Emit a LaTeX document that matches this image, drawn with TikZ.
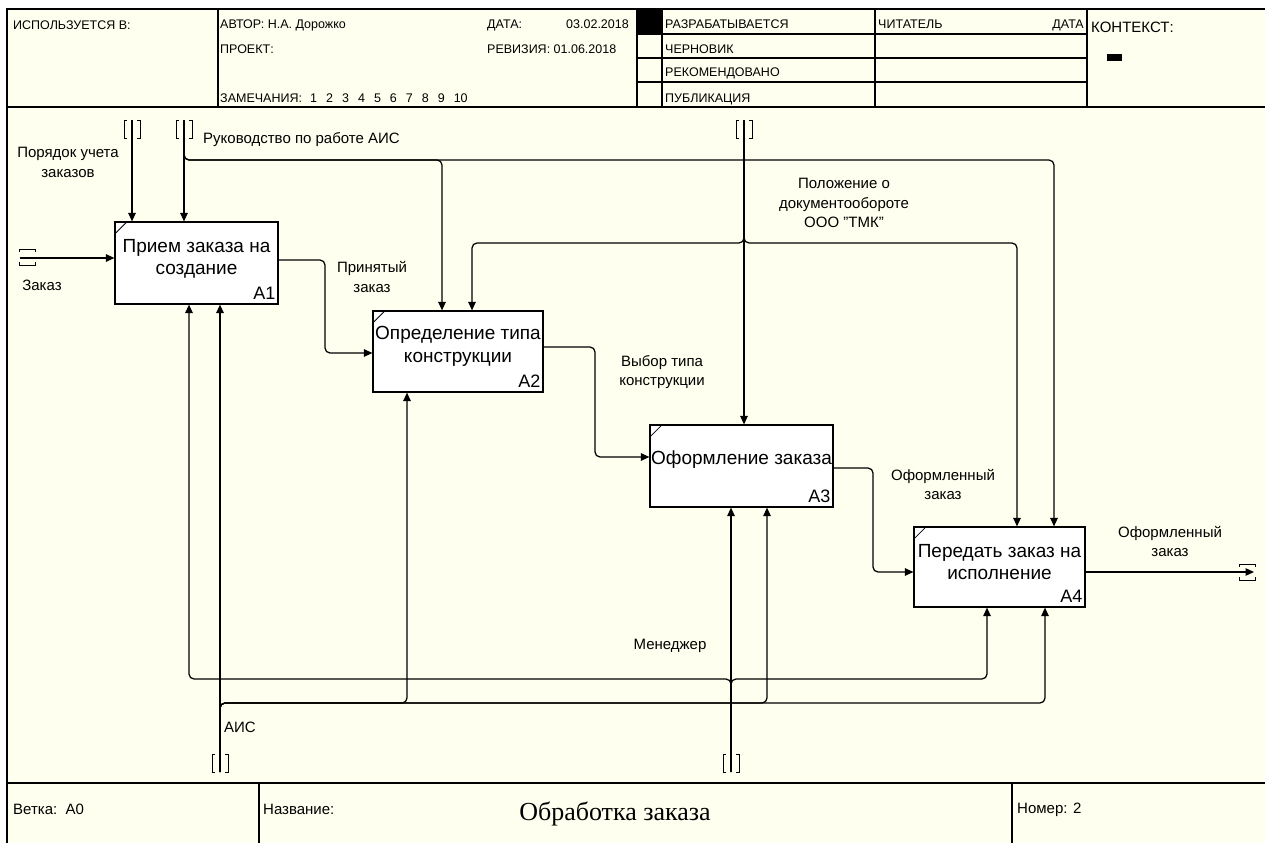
\documentclass[tikz,border=0pt]{standalone}
\usepackage{fontspec}
\setmainfont{Liberation Sans}
\newfontfamily\titlefont{Liberation Serif}
\usetikzlibrary{arrows.meta}
\definecolor{bgcream}{RGB}{255,255,240}
\begin{document}
\begin{tikzpicture}[x=1pt,y=-1pt,
  frame/.style={line width=1.3pt, draw=black},
  conn/.style={line width=1.25pt, rounded corners=5pt},
  arr/.style={conn, -{Triangle[length=8.5pt,width=7.5pt]}},
  hdr/.style={anchor=base west, inner sep=0pt, font=\fontsize{12.5}{14}\selectfont},
  ftr/.style={anchor=base west, inner sep=0pt, font=\fontsize{15}{17}\selectfont},
  lbl/.style={align=center, inner sep=0pt, font=\fontsize{15}{19.5}\selectfont},
  fbox/.style={draw, fill=white, line width=1.2pt, inner sep=0pt},
  btxt/.style={align=center, inner sep=0pt, font=\fontsize{19}{22.5}\selectfont},
  bnum/.style={anchor=south east, inner sep=0pt, font=\fontsize{18}{20}\selectfont},
  tunv/.pic={\draw[line width=1pt] (-5,-9) -- (-8,-9) -- (-8,9) -- (-5,9) (5,-9) -- (8,-9) -- (8,9) -- (5,9);},
  tunh/.pic={\draw[line width=1pt] (-8,-5) -- (-8,-8) -- (8,-8) -- (8,-5) (-8,5) -- (-8,8) -- (8,8) -- (8,5);}
]
\useasboundingbox (0,0) rectangle (1265,843);
\fill[white] (0,0) rectangle (1265,843);
\fill[bgcream] (7,9) rectangle (1265,843);

% frame
\draw[frame] (7,843) -- (7,9) -- (1265,9);
\draw[frame] (7,107) -- (1265,107);
\draw[frame] (7,783) -- (1265,783);
\foreach \xx in {218,637,662,875,1087} {\draw[frame] (\xx,9) -- (\xx,107);}
\foreach \yy in {34,58,82} {\draw[frame] (637,\yy) -- (1087,\yy);}
\fill[black] (637,9) rectangle (662,34);
\fill[black] (1107,54) rectangle (1122,61);
\draw[frame] (259,783) -- (259,843);
\draw[frame] (1012,783) -- (1012,843);

% header texts
\node[hdr] (hUsed) at (13,30) {ИСПОЛЬЗУЕТСЯ В:};
\node[hdr] (hAuth) at (220,29) {АВТОР: Н.А. Дорожко};
\node[hdr] (hProj) at (220,54) {ПРОЕКТ:};
\node[hdr] (hNote) at (220,102) {ЗАМЕЧАНИЯ:};
\node[hdr] (hNums) at (310,102) {1\hspace{9pt}2\hspace{9pt}3\hspace{9pt}4\hspace{9pt}5\hspace{9pt}6\hspace{9pt}7\hspace{9pt}8\hspace{9pt}9\hspace{9pt}10};
\node[hdr] (hDate) at (487,29) {ДАТА:};
\node[hdr, anchor=base east] (hDateV) at (629,29) {03.02.2018};
\node[hdr] (hRev) at (487,54) {РЕВИЗИЯ: 01.06.2018};
\node[hdr] (s1) at (665,29) {РАЗРАБАТЫВАЕТСЯ};
\node[hdr] (s2) at (665,54) {ЧЕРНОВИК};
\node[hdr] (s3) at (665,77) {РЕКОМЕНДОВАНО};
\node[hdr] (s4) at (665,102) {ПУБЛИКАЦИЯ};
\node[hdr] (hRead) at (878,29) {ЧИТАТЕЛЬ};
\node[hdr, anchor=base east] (hRDate) at (1084,29) {ДАТА};
\node[hdr, font=\fontsize{15}{17}\selectfont] (hCtx) at (1091,33) {КОНТЕКСТ:};

% footer texts
\node[ftr] (fBr) at (13,814) {Ветка:\ \ A0};
\node[ftr] (fName) at (263,814) {Название:};
\node[ftr] (fNum) at (1017,813) {Номер: 2};
\node[anchor=base, inner sep=0pt, font=\titlefont\fontsize{26}{28}\selectfont] (fTitle) at (615,820) {Обработка заказа};

% boxes
\node[fbox, minimum width=163pt, minimum height=82pt] (A1) at (196.5,263) {};
\node[fbox, minimum width=170pt, minimum height=81pt] (A2) at (458,351.5) {};
\node[fbox, minimum width=183pt, minimum height=82pt] (A3) at (741.5,466) {};
\node[fbox, minimum width=171pt, minimum height=80pt] (A4) at (999.5,567) {};
\foreach \b in {A1,A2,A3,A4} {\draw[line width=0.8pt] ([yshift=-13pt]\b.north west) -- ([xshift=13pt]\b.north west);}
\node[btxt] (A1t) at ([yshift=4pt]A1.center) {Прием заказа на\\создание};
\node[btxt] (A2t) at ([yshift=5pt]A2.center) {Определение типа\\конструкции};
\node[btxt] (A3t) at ([yshift=6pt]A3.center) {Оформление заказа};
\node[btxt] (A4t) at ([yshift=5pt]A4.center) {Передать заказ на\\исполнение};
\node[bnum] (A1n) at ([shift={(-3pt,5pt)}]A1.south east) {A1};
\node[bnum] (A2n) at ([shift={(-3pt,5pt)}]A2.south east) {A2};
\node[bnum] (A3n) at ([shift={(-3pt,5pt)}]A3.south east) {A3};
\node[bnum] (A4n) at ([shift={(-3pt,5pt)}]A4.south east) {A4};

% tunnels
\pic at (132,129) {tunv};
\pic at (184,129) {tunv};
\pic at (744,129) {tunv};
\pic at (220,763) {tunv};
\pic at (731,763) {tunv};
\pic at (27,257) {tunh};
\pic at (1247,572) {tunh};

% coordinates
\coordinate (tPor) at (132,120);
\coordinate (tRuk) at (184,120);
\coordinate (tPol) at (744,120);
\coordinate (tZak) at (20,258);
\coordinate (tAIS) at (220,772);
\coordinate (tMen) at (731,772);
\coordinate (tOut) at (1254,572);
\coordinate (jRuk) at (184,160);
\coordinate (bRuk2) at (442,160);
\coordinate (bRuk4) at (1054,160);
\coordinate (jPol) at (744,243);
\coordinate (bPol2) at (472,243);
\coordinate (bPol4) at (1017,243);
\coordinate (b12a) at (325,260);
\coordinate (b12b) at (325,353);
\coordinate (b23a) at (595,347);
\coordinate (b23b) at (595,457);
\coordinate (b34a) at (873,468);
\coordinate (b34b) at (873,572);
\coordinate (jAIS) at (220,703);
\coordinate (bAIS2) at (407,703);
\coordinate (bAIS3) at (767,703);
\coordinate (bAIS4) at (1045,703);
\coordinate (jMen) at (731,679);
\coordinate (bMen1) at (189,679);
\coordinate (bMen4) at (987,679);

% connectors
\draw[arr] (tPor) -- (tPor |- A1.north);
\draw[arr] (tRuk) -- (tRuk |- A1.north);
\draw[arr] (tRuk) -- (jRuk) -- (bRuk2) -- (bRuk2 |- A2.north);
\draw[arr] (tRuk) -- (jRuk) -- (bRuk4) -- (bRuk4 |- A4.north);
\draw[arr] (tPol) -- (tPol |- A3.north);
\draw[arr] (tPol) -- (jPol) -- (bPol2) -- (bPol2 |- A2.north);
\draw[arr] (tPol) -- (jPol) -- (bPol4) -- (bPol4 |- A4.north);
\draw[arr] (tZak) -- (tZak -| A1.west);
\draw[arr] (A1.east |- b12a) -- (b12a) -- (b12b) -- (b12b -| A2.west);
\draw[arr] (A2.east |- b23a) -- (b23a) -- (b23b) -- (b23b -| A3.west);
\draw[arr] (A3.east |- b34a) -- (b34a) -- (b34b) -- (b34b -| A4.west);
\draw[arr] (A4.east |- tOut) -- (tOut);
\draw[arr] (tAIS) -- (tAIS |- A1.south);
\draw[arr] (tAIS) -- (jAIS) -- (bAIS2) -- (bAIS2 |- A2.south);
\draw[arr] (tAIS) -- (jAIS) -- (bAIS3) -- (bAIS3 |- A3.south);
\draw[arr] (tAIS) -- (jAIS) -- (bAIS4) -- (bAIS4 |- A4.south);
\draw[arr] (tMen) -- (tMen |- A3.south);
\draw[arr] (tMen) -- (jMen) -- (bMen1) -- (bMen1 |- A1.south);
\draw[arr] (tMen) -- (jMen) -- (bMen4) -- (bMen4 |- A4.south);

% labels
\node[lbl] (lPor) at (68,162.5) {Порядок учета\\заказов};
\node[lbl, anchor=west] (lRuk) at (203,140) {Руководство по работе АИС};
\node[lbl] (lZak) at (42,285) {Заказ};
\node[lbl] (lPr) at (372,277) {Принятый\\заказ};
\node[lbl] (lVyb) at (662,372) {Выбор типа\\конструкции};
\node[lbl] (lPol) at (844,203) {Положение о\\документообороте\\ООО "ТМК"};
\node[lbl] (lOf1) at (943,484.5) {Оформленный\\заказ};
\node[lbl] (lOf2) at (1170,541.5) {Оформленный\\заказ};
\node[lbl] (lMen) at (670,646) {Менеджер};
\node[lbl] (lAIS) at (240,727) {АИС};
\end{tikzpicture}
\end{document}
